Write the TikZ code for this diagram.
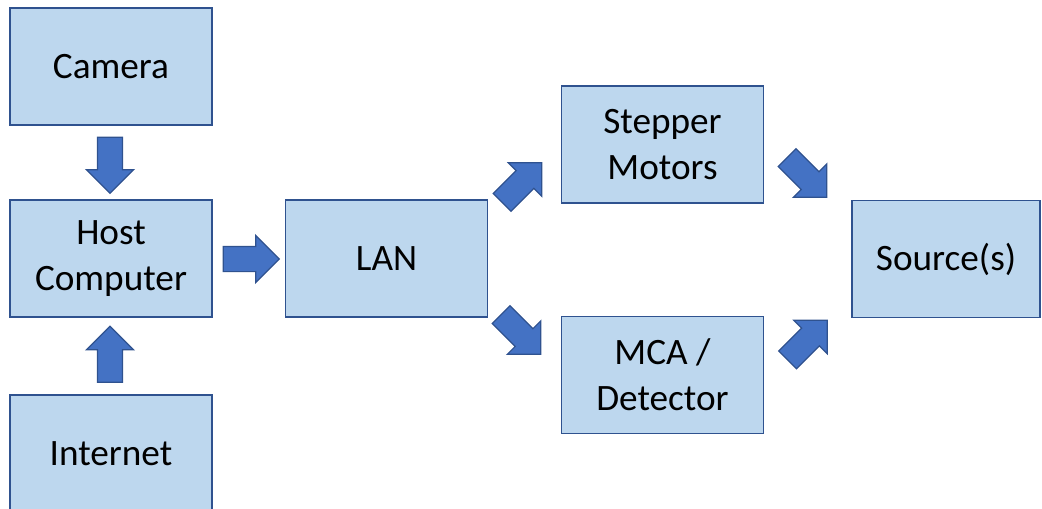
\documentclass[tikz,border=0pt]{standalone}
\usepackage{fontspec}
\setmainfont{Carlito}
\usepackage{tikz}
\usetikzlibrary{shapes.arrows}
\usepackage{xcolor}

\definecolor{boxfill}{HTML}{BDD7EE}
\definecolor{boxline}{HTML}{2F528F}
\definecolor{arrowfill}{HTML}{4472C4}

\begin{document}
\begin{tikzpicture}[
    x=0.02cm, y=-0.02cm,
    box/.style={draw=boxline, fill=boxfill, line width=1.1pt, align=center,
      minimum width=4.04cm, minimum height=2.34cm, inner sep=0pt,
      font=\fontsize{21.2}{26}\selectfont},
    blockarrow/.style={single arrow, draw=boxline, fill=arrowfill, line width=0.7pt,
      inner xsep=0pt, inner ysep=0.24cm, minimum height=1.12cm,
      single arrow head extend=0.22cm}
]

  \useasboundingbox (0,0) rectangle (1042,508);
  \clip (0,0) rectangle (1042,508);

  % --- LEFT COLUMN ---
  \node[box] (camera) at (111,66.5) {Camera};
  \node[box] (host) at (111,258.5) {Host\\Computer};
  \node[box] (internet) at (111,453.5) {Internet};

  % --- MIDDLE ---
  \node[box] (lan) at (386.5,258.5) {LAN};
  \node[box] (stepper) at (662.5,144.5) {Stepper\\Motors};
  \node[box] (mca) at (662.5,375) {MCA /\\Detector};

  % --- RIGHT ---
  \node[box, minimum width=3.76cm] (source) at (946,259) {Source(s)};

  % --- BLOCK ARROWS ---
  \node[blockarrow, rotate=-90] (camtohost) at (110,159) {};
  \node[blockarrow, rotate=90] (nettohost) at (110,360.5) {};
  \node[blockarrow] (hosttolan) at (245,259) {};
  \node[blockarrow, rotate=45] (lantostep) at (517.5,187) {};
  \node[blockarrow, rotate=-45] (lantomca) at (516.5,330) {};
  \node[blockarrow, rotate=-45] (steptosrc) at (802.5,173) {};
  \node[blockarrow, rotate=45] (mcatosrc) at (803,344.5) {};

\end{tikzpicture}
\end{document}
